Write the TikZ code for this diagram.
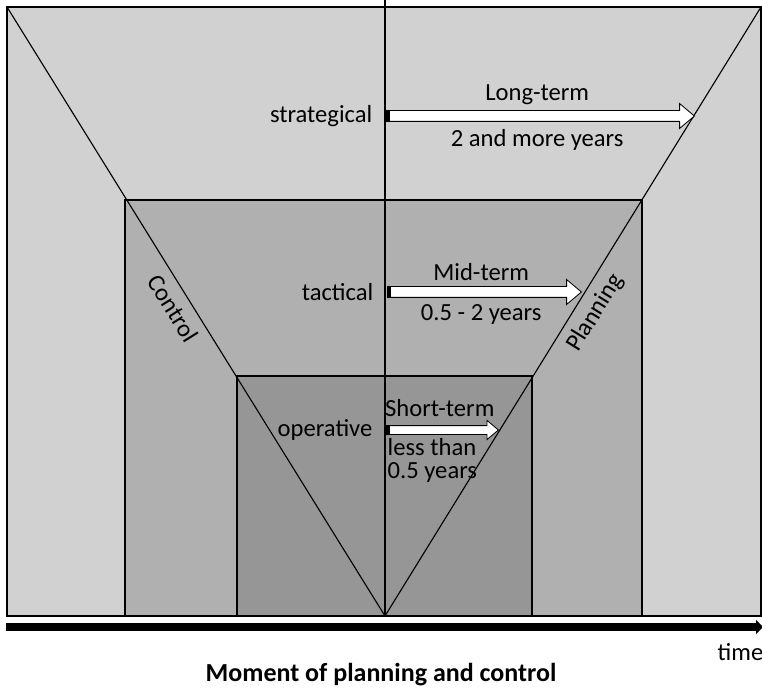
\documentclass[tikz,border=0pt]{standalone}
\usepackage{fontspec}
\setmainfont{Carlito}
\usepackage{tikz}
\usetikzlibrary{arrows.meta, positioning, shapes.arrows}

\definecolor{outergray}{gray}{0.82}
\definecolor{midgray}{gray}{0.69}
\definecolor{innergray}{gray}{0.59}

\begin{document}
\begin{tikzpicture}[x=0.25mm, y=0.25mm,
  frame/.style={draw, line width=0.9pt},
  guide/.style={line width=0.8pt},
  term/.style={single arrow, draw, fill=white, line width=0.6pt, inner sep=0pt, inner ysep=1.25mm, anchor=tail, single arrow head extend=1.75mm, single arrow tip angle=80},
  lbl/.style={font=\fontsize{17.5}{20}\selectfont, inner sep=1pt},
  axis/.style={line width=5pt, -{Triangle[length=1.75mm, width=3.5mm]}}
]
\useasboundingbox (0,0) rectangle (762,690);

% planning levels
\filldraw[frame, fill=outergray] (7,74) rectangle (761,683);
\filldraw[frame, fill=midgray] (125,74) rectangle (642,490);
\filldraw[frame, fill=innergray] (237,74) rectangle (532,314);

% control / planning lines
\coordinate (apex) at (385,74);
\coordinate (ctop) at (385,690);
\coordinate (ltop) at (7,683);
\coordinate (rtop) at (761,683);
\draw[guide] (ltop) -- node[lbl, sloped, below=5pt, pos=0.48] (ctrl) {Control} (apex);
\draw[guide] (apex) -- node[lbl, sloped, below=5pt, pos=0.515] (plan) {Planning} (rtop);
\draw[guide] (ctop) -- (apex);

% strategical
\node[term, minimum height=77mm] (ltarrow) at (386,574) {};
\fill (ltarrow.tail) ++(0,-5) rectangle ++(4,10);
\node[lbl, left=3mm of ltarrow.tail] (strat) {strategical};
\node[lbl, above=2.5mm of ltarrow.center] (ltname) {Long-term};
\node[lbl, below=3mm of ltarrow.center] (ltdur) {2 and more years};

% tactical
\node[term, minimum height=48.5mm] (mtarrow) at (387,398) {};
\fill (mtarrow.tail) ++(0,-5) rectangle ++(4,10);
\node[lbl, left=3mm of mtarrow.tail] (tact) {tactical};
\node[lbl, above=2.5mm of mtarrow.center] (mtname) {Mid-term};
\node[lbl, below=2.6mm of mtarrow.center] (mtdur) {0.5 - 2 years};

% operative
\node[term, minimum height=28mm, inner ysep=1mm, single arrow head extend=1.3mm] (starrow) at (386,260) {};
\fill (starrow.tail) ++(0,-4) rectangle ++(4,8);
\node[lbl, left=3mm of starrow.tail] (oper) {operative};
\node[lbl, above=2.9mm of starrow.center] (stname) {Short-term};
\node[lbl, align=left, anchor=north west, font=\fontsize{17.5}{16.3}\selectfont] (stdur) at (386,253) {less than\\0.5 years};

% time axis
\coordinate (tstart) at (6,63);
\coordinate (tend) at (763,63);
\draw[axis] (tstart) -- (tend);
\node[lbl, anchor=east] (time) at (765,38) {time};
\node[lbl, font=\fontsize{18.5}{21}\selectfont\bfseries] (title) at (381,15) {Moment of planning and control};
\end{tikzpicture}
\end{document}
